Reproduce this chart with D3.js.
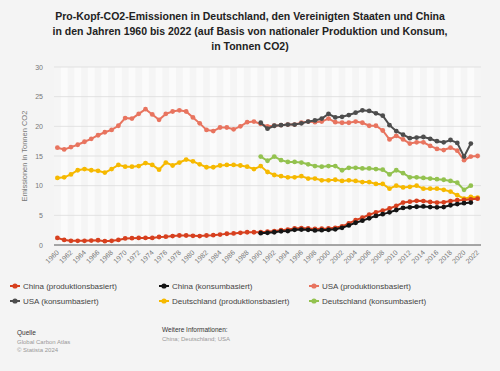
<!DOCTYPE html>
<html>
<head>
<meta charset="utf-8">
<script src="https://cdn.jsdelivr.net/npm/d3@7"></script>
<style>
  body { margin: 0; background: #f4f4f4; font-family: "Liberation Sans", Arial, sans-serif; }
  svg { display: block; }
</style>
</head>
<body>
<div id="chart"></div>
<script>
// years 1960..2022
const years = d3.range(1960, 2023);
const tickYears = d3.range(1960, 2023, 2);
const yTicks = [0, 5, 10, 15, 20, 25, 30];

const chinaProd = [1.2, 0.85, 0.7, 0.7, 0.7, 0.75, 0.8, 0.65, 0.7, 0.85,
  1.1, 1.15, 1.2, 1.2, 1.2, 1.35, 1.4, 1.5, 1.6, 1.6,
  1.55, 1.5, 1.6, 1.65, 1.75, 1.9, 1.95, 2.05, 2.15, 2.15,
  2.15, 2.25, 2.35, 2.5, 2.6, 2.8, 2.85, 2.8, 2.7, 2.75,
  2.8, 2.9, 3.15, 3.65, 4.2, 4.6, 5.1, 5.5, 5.8, 6.15,
  6.6, 7.15, 7.3, 7.45, 7.4, 7.25, 7.15, 7.2, 7.4, 7.55,
  7.6, 7.7, 7.8];
// consumption series: 1990..2021
const chinaCons = [2.0, 2.05, 2.15, 2.3, 2.35, 2.55, 2.6, 2.55, 2.45, 2.5,
  2.55, 2.65, 2.9, 3.3, 3.75, 4.1, 4.5, 4.9, 5.2, 5.5,
  5.9, 6.25, 6.35, 6.45, 6.5, 6.4, 6.35, 6.4, 6.7, 6.9,
  7.05, 7.15];
const usaProd = [16.4, 16.1, 16.5, 16.9, 17.4, 17.9, 18.5, 19.0, 19.4, 20.1,
  21.4, 21.3, 22.1, 22.9, 22.0, 21.1, 22.1, 22.5, 22.7, 22.5,
  21.5, 20.5, 19.4, 19.2, 19.8, 19.8, 19.5, 20.0, 20.7, 20.8,
  20.4, 20.0, 20.1, 20.2, 20.3, 20.3, 20.6, 20.8, 20.7, 20.8,
  21.3, 20.7, 20.6, 20.6, 20.8, 20.6, 20.1, 20.1, 19.3, 17.8,
  18.4, 17.8, 17.1, 17.3, 17.3, 16.7, 16.2, 16.0, 16.4, 15.9,
  14.3, 14.9, 15.0];
const usaCons = [20.6, 19.6, 20.1, 20.2, 20.3, 20.3, 20.5, 20.8, 21.0, 21.3,
  22.1, 21.5, 21.6, 21.9, 22.3, 22.7, 22.6, 22.2, 21.8, 20.2,
  19.2, 18.6, 18.0, 18.1, 18.2, 17.9, 17.5, 17.3, 17.7, 17.2,
  14.9, 17.1];
const deProd = [11.3, 11.4, 11.9, 12.6, 12.8, 12.6, 12.5, 12.2, 12.8, 13.5,
  13.2, 13.2, 13.3, 13.8, 13.5, 12.7, 13.9, 13.4, 13.9, 14.4,
  14.1, 13.6, 13.1, 13.1, 13.4, 13.5, 13.5, 13.4, 13.2, 12.8,
  13.3, 12.3, 11.8, 11.6, 11.4, 11.4, 11.6, 11.2, 11.2, 10.9,
  10.9, 11.0, 10.8, 10.9, 10.8, 10.6, 10.6, 10.3, 10.3, 9.5,
  10.0, 9.7, 9.8, 10.0, 9.5, 9.5, 9.5, 9.3, 9.0, 8.4,
  7.8, 8.1, 8.0];
const deCons = [14.9, 14.2, 14.9, 14.3, 14.0, 14.0, 13.9, 13.6, 13.3, 13.2,
  13.3, 13.3, 12.6, 13.0, 13.0, 12.9, 12.9, 12.8, 12.7, 11.9,
  12.6, 12.1, 11.4, 11.4, 11.3, 11.2, 11.1, 11.0, 10.8, 10.5,
  9.3, 10.0];

const seriesNames = ["China (produktionsbasiert)", "China (konsumbasiert)", "USA (produktionsbasiert)",
  "USA (konsumbasiert)", "Deutschland (produktionsbasiert)", "Deutschland (konsumbasiert)"];
const colors = ["#d7401f", "#151515", "#e8745f", "#4d4d4d", "#f6b900", "#93c24f"];

const consYears = d3.range(1990, 2022);
const series = [
  { name: seriesNames[0], years: years, values: chinaProd, color: colors[0] },
  { name: seriesNames[1], years: consYears, values: chinaCons, color: colors[1] },
  { name: seriesNames[2], years: years, values: usaProd, color: colors[2] },
  { name: seriesNames[3], years: consYears, values: usaCons, color: colors[3] },
  { name: seriesNames[4], years: years, values: deProd, color: colors[4] },
  { name: seriesNames[5], years: consYears, values: deCons, color: colors[5] }
];
// draw order: production lines first, consumption on top
const drawOrder = [2, 3, 4, 5, 0, 1];

const width = 500, height = 371;
const margin = { left: 54, right: 19, top: 67, bottom: 126 };

const svg = d3.select("#chart").append("svg")
  .attr("width", width).attr("height", height);

svg.append("rect").attr("width", width).attr("height", height).attr("fill", "#f4f4f4");

const title = ["Pro-Kopf-CO2-Emissionen in Deutschland, den Vereinigten Staaten und China",
  "in den Jahren 1960 bis 2022 (auf Basis von nationaler Produktion und Konsum,",
  "in Tonnen CO2)"];
svg.selectAll("text.title").data(title).enter().append("text")
  .attr("class", "title")
  .attr("x", 250).attr("y", (d, i) => 20 + i * 15)
  .attr("text-anchor", "middle")
  .attr("font-size", "10.5px").attr("font-weight", "bold").attr("fill", "#222")
  .text(d => d);

const x = d3.scalePoint().domain(years)
  .range([margin.left, width - margin.right]).padding(0.5);
const y = d3.scaleLinear().domain([0, 30])
  .range([height - margin.bottom, margin.top]);

// plot background + alternating columns
svg.append("rect")
  .attr("x", margin.left).attr("y", margin.top)
  .attr("width", width - margin.left - margin.right)
  .attr("height", y(0) - margin.top)
  .attr("fill", "#fbfbfb");
const step = x.step();
svg.selectAll("rect.band").data(tickYears).enter().append("rect")
  .attr("class", "band")
  .attr("x", d => x(d) - step / 2).attr("y", margin.top)
  .attr("width", step).attr("height", y(0) - margin.top)
  .attr("fill", "#f5f5f5");

// gridlines
svg.selectAll("line.grid").data(yTicks.slice(1)).enter().append("line")
  .attr("class", "grid")
  .attr("x1", margin.left).attr("x2", width - margin.right)
  .attr("y1", d => y(d)).attr("y2", d => y(d))
  .attr("stroke", "#dcdcdc").attr("stroke-width", 0.8);

// y tick labels
svg.selectAll("text.ytick").data(yTicks).enter().append("text")
  .attr("class", "ytick")
  .attr("x", 43).attr("y", d => y(d) + 2.5)
  .attr("text-anchor", "end")
  .attr("font-size", "7px").attr("fill", "#777")
  .text(d => d);

svg.append("text")
  .attr("transform", `translate(27,${(margin.top + y(0)) / 2}) rotate(-90)`)
  .attr("text-anchor", "middle")
  .attr("font-size", "7.5px").attr("fill", "#777")
  .text("Emissionen in Tonnen CO2");

// x axis line
svg.append("line")
  .attr("x1", margin.left).attr("x2", width - margin.right)
  .attr("y1", y(0)).attr("y2", y(0))
  .attr("stroke", "#8a8a8a").attr("stroke-width", 1.5);

svg.selectAll("text.xtick").data(tickYears).enter().append("text")
  .attr("class", "xtick")
  .attr("transform", d => `translate(${x(d) + 2},${y(0) + 8}) rotate(-45)`)
  .attr("text-anchor", "end")
  .attr("font-size", "7px").attr("fill", "#777")
  .text(d => d);

const line = d3.line().x(d => x(d[0])).y(d => y(d[1]));

drawOrder.forEach(i => {
  const s = series[i];
  const pts = s.years.map((yr, j) => [yr, s.values[j]]);
  const g = svg.append("g");
  g.append("path").datum(pts)
    .attr("d", line)
    .attr("fill", "none")
    .attr("stroke", s.color)
    .attr("stroke-width", 2);
  g.selectAll("circle").data(pts).enter().append("circle")
    .attr("cx", d => x(d[0])).attr("cy", d => y(d[1]))
    .attr("r", 2.4).attr("fill", s.color);
});

// legend
const legX = [13, 162, 312];
const legend = svg.selectAll("g.leg").data(series).enter().append("g")
  .attr("class", "leg")
  .attr("transform", (d, i) => `translate(${legX[i % 3]},${286 + Math.floor(i / 3) * 15})`);
legend.append("line")
  .attr("x1", -3).attr("x2", 7).attr("y1", 0).attr("y2", 0)
  .attr("stroke", d => d.color).attr("stroke-width", 2);
legend.append("circle").attr("cx", 2).attr("cy", 0).attr("r", 2.6)
  .attr("fill", d => d.color);
legend.append("text")
  .attr("x", 10).attr("y", 3)
  .attr("font-size", "8px").attr("fill", "#444")
  .text(d => d.name);

// footer
svg.append("text").attr("x", 17).attr("y", 335)
  .attr("font-size", "6.5px").attr("fill", "#333").text("Quelle");
svg.append("text").attr("x", 17).attr("y", 343.5)
  .attr("font-size", "6px").attr("fill", "#999").text("Global Carbon Atlas");
svg.append("text").attr("x", 17).attr("y", 352)
  .attr("font-size", "6px").attr("fill", "#999").text("© Statista 2024");
svg.append("text").attr("x", 162).attr("y", 332)
  .attr("font-size", "6.5px").attr("fill", "#333").text("Weitere Informationen:");
svg.append("text").attr("x", 162).attr("y", 340.5)
  .attr("font-size", "6px").attr("fill", "#999").text("China; Deutschland; USA");
</script>
</body>
</html>
